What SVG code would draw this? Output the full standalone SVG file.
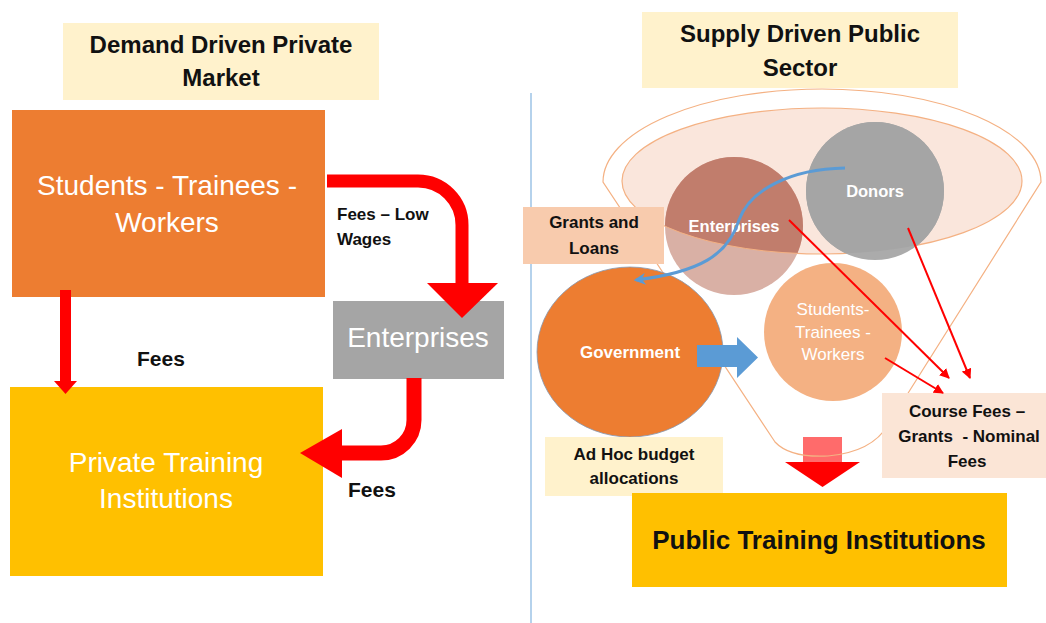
<svg xmlns="http://www.w3.org/2000/svg" width="1046" height="623" viewBox="0 0 1046 623">
  <defs>
    <style>
      .title { font-family: "Liberation Sans", Arial, sans-serif; font-weight: bold; font-size: 24px; fill: #111; text-anchor: middle; }
      .big { font-family: "Liberation Sans", Arial, sans-serif; font-size: 28px; fill: #fff; text-anchor: middle; }
      .lbl { font-family: "Liberation Sans", Arial, sans-serif; font-weight: bold; font-size: 17px; fill: #111; text-anchor: middle; }
      .lblw { font-family: "Liberation Sans", Arial, sans-serif; font-weight: bold; font-size: 16.5px; fill: #fff; text-anchor: middle; }
      .lblr { font-family: "Liberation Sans", Arial, sans-serif; font-size: 17px; fill: #fff; text-anchor: middle; }
      .fees { font-family: "Liberation Sans", Arial, sans-serif; font-weight: bold; font-size: 21px; fill: #111; }
      .thick { fill: none; stroke: #FF0000; }
      .thin { fill: none; stroke: #FF0000; stroke-width: 2; marker-end: url(#redHead); }
    </style>
    <marker id="redHead" viewBox="0 0 10 10" refX="9" refY="5" markerWidth="5" markerHeight="5" orient="auto" markerUnits="strokeWidth">
      <path d="M0,0 L10,5 L0,10 Z" fill="#FF0000"/>
    </marker>
    <marker id="blueHead" viewBox="0 0 10 10" refX="8" refY="5" markerWidth="4" markerHeight="4" orient="auto" markerUnits="strokeWidth">
      <path d="M0,0 L10,5 L0,10 L3,5 Z" fill="#5B9BD5"/>
    </marker>
    <clipPath id="innerClip">
      <ellipse cx="822" cy="181" rx="200" ry="73"/>
    </clipPath>
    <clipPath id="entClip">
      <circle cx="734" cy="226" r="69"/>
    </clipPath>
  </defs>

  <!-- divider between the two halves -->
  <line x1="531" y1="93" x2="531" y2="623" stroke="#9DC3E6" stroke-width="1.5"/>

  <!-- ===== Left half: private market ===== -->
  <g id="title-private">
    <rect x="63" y="23" width="316" height="77" fill="#FFF2CC"/>
    <text class="title" x="221" y="53">Demand Driven Private</text>
    <text class="title" x="221" y="86">Market</text>
  </g>

  <g id="students-private">
    <rect x="12" y="110" width="313" height="187" fill="#ED7D31"/>
    <text class="big" x="167" y="195">Students - Trainees -</text>
    <text class="big" x="167" y="232">Workers</text>
  </g>

  <g id="enterprises-private">
    <rect x="333" y="301" width="171" height="78" fill="#A5A5A5"/>
    <text class="big" x="418" y="347">Enterprises</text>
  </g>

  <g id="private-institutions">
    <rect x="10" y="387" width="313" height="189" fill="#FFC000"/>
    <text class="big" x="166" y="472">Private Training</text>
    <text class="big" x="166" y="508">Institutions</text>
  </g>

  <g id="connectors-private">
    <!-- students to private institutions -->
    <rect x="60" y="290" width="11" height="92" fill="#FF0000"/>
    <polygon points="54,381 77,381 65.5,394" fill="#FF0000"/>
    <!-- students to enterprises -->
    <path class="thick" stroke-width="13" d="M327,181 H418 A44,44 0 0 1 462,225 V284"/>
    <polygon points="427,283 498,283 462,318" fill="#FF0000"/>
    <!-- enterprises to private institutions -->
    <path class="thick" stroke-width="15" d="M414,378 V420 A33,33 0 0 1 381,453 H340"/>
    <polygon points="342,429 342,478 300,453" fill="#FF0000"/>
  </g>

  <g id="labels-private">
    <text class="fees" x="137" y="366">Fees</text>
    <text class="fees" x="348" y="497">Fees</text>
    <text class="lbl" style="text-anchor:start" x="337" y="220">Fees – Low</text>
    <text class="lbl" style="text-anchor:start" x="337" y="245">Wages</text>
  </g>

  <!-- ===== Right half: public sector ===== -->
  <g id="title-public">
    <rect x="642" y="12" width="316" height="76" fill="#FFF2CC"/>
    <text class="title" x="800" y="42">Supply Driven Public</text>
    <text class="title" x="800" y="76">Sector</text>
  </g>

  <!-- output arrow into public institutions (body shows through the funnel) -->
  <g id="funnel-outlet">
    <rect x="803" y="437" width="39" height="26" fill="#FF6B6B"/>
    <polygon points="785,462 860,462 822.5,487" fill="#FF0000"/>
  </g>

  <g id="funnel">
    <path d="M603,182 A219,93 0 0 1 1041,182 L888,425 Q872,452 828,456 Q790,458 775,442 Z" fill="none" stroke="#F4B183" stroke-width="1.2"/>
    <ellipse cx="822" cy="181" rx="200" ry="73" fill="#FAE6DC" stroke="#F4B183" stroke-width="1.2"/>
  </g>

  <g id="enterprises-public">
    <circle cx="734" cy="226" r="69" fill="#D9B0A5"/>
    <circle cx="734" cy="226" r="69" fill="#C17D6C" clip-path="url(#innerClip)"/>
    <ellipse cx="822" cy="181" rx="200" ry="73" fill="none" stroke="#F4B183" stroke-width="1" clip-path="url(#entClip)"/>
    <text class="lblw" x="734" y="232">Enterprises</text>
  </g>

  <g id="donors">
    <circle cx="875" cy="191" r="69" fill="#ABABAB"/>
    <circle cx="875" cy="191" r="69" fill="#A5A5A5" clip-path="url(#innerClip)"/>
    <text class="lblw" x="875" y="197">Donors</text>
  </g>

  <g id="students-public">
    <circle cx="833" cy="332" r="69" fill="#F4B183"/>
    <text class="lblr" x="833" y="315">Students-</text>
    <text class="lblr" x="833" y="338">Trainees -</text>
    <text class="lblr" x="833" y="360">Workers</text>
  </g>

  <g id="government">
    <ellipse cx="630" cy="352" rx="93" ry="85" fill="#ED7D31" stroke="#8497B0" stroke-width="0.8"/>
    <text class="lblw" style="font-size:17px" x="630" y="358">Government</text>
  </g>

  <g id="grants-loans">
    <rect x="523" y="207" width="141" height="57" fill="#F8CBAD"/>
    <text class="lbl" x="594" y="228">Grants and</text>
    <text class="lbl" x="594" y="254">Loans</text>
  </g>

  <g id="ad-hoc">
    <rect x="545" y="437" width="178" height="59" fill="#FFF2CC"/>
    <text class="lbl" x="634" y="460">Ad Hoc budget</text>
    <text class="lbl" x="634" y="484">allocations</text>
  </g>

  <g id="course-fees">
    <rect x="882" y="393" width="170" height="85" fill="#FBE5D6"/>
    <text class="lbl" x="967" y="417">Course Fees –</text>
    <text class="lbl" x="969" y="442" xml:space="preserve">Grants  - Nominal</text>
    <text class="lbl" x="967" y="467">Fees</text>
  </g>

  <g id="public-institutions">
    <rect x="632" y="493" width="375" height="94" fill="#FFC000"/>
    <text class="title" style="font-size:26px" x="819" y="549">Public Training Institutions</text>
  </g>

  <g id="connectors-public">
    <!-- government funds students -->
    <polygon points="697,345 737,345 737,337 758,357.5 737,378 737,367 697,367" fill="#5B9BD5"/>
    <!-- donor grants and loans to government -->
    <path d="M845,168 C790,169 750,190 739,220 C728,255 700,272 636,280" fill="none" stroke="#5B9BD5" stroke-width="3" marker-end="url(#blueHead)"/>
    <!-- payments to course fees -->
    <line class="thin" x1="789" y1="220" x2="949" y2="378"/>
    <line class="thin" x1="908" y1="228" x2="970" y2="378"/>
    <line class="thin" x1="885" y1="358" x2="943" y2="393"/>
  </g>
</svg>
